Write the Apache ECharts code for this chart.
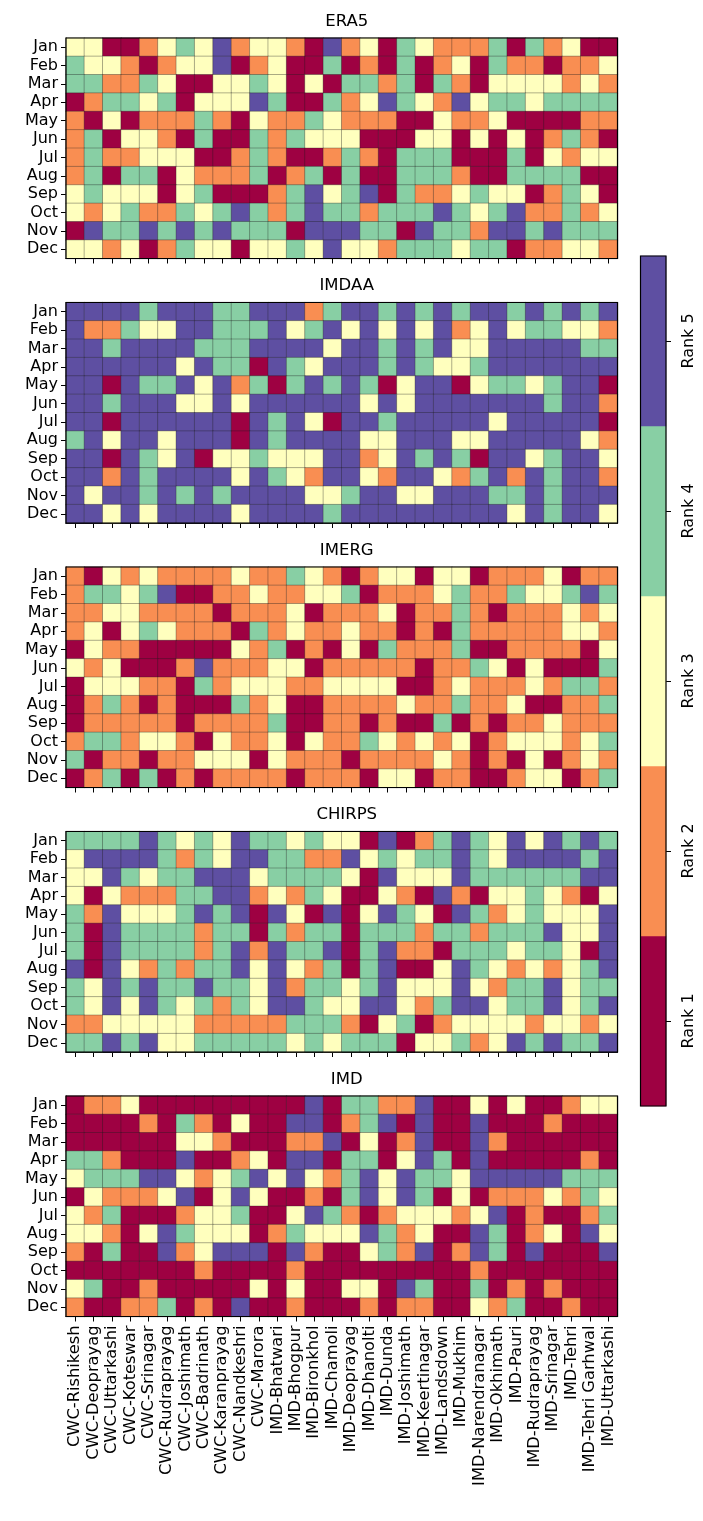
<!DOCTYPE html>
<html>
<head>
<meta charset="utf-8">
<script src="https://cdn.jsdelivr.net/npm/echarts@6/dist/echarts.min.js"></script>
<style>
html,body{margin:0;padding:0;background:#fff;}
#c{width:703px;height:1521px;}
</style>
</head>
<body>
<div id="c"></div>
<script>
const months = ['Jan','Feb','Mar','Apr','May','Jun','Jul','Aug','Sep','Oct','Nov','Dec'];
const stations = ['CWC-Rishikesh','CWC-Deoprayag','CWC-Uttarkashi','CWC-Koteswar','CWC-Srinagar','CWC-Rudraprayag','CWC-Joshimath','CWC-Badrinath','CWC-Karanprayag','CWC-Nandkeshri','CWC-Marora','IMD-Bhatwari','IMD-Bhogpur','IMD-Bironkhol','IMD-Chamoli','IMD-Deoprayag','IMD-Dhanolti','IMD-Dunda','IMD-Joshimath','IMD-Keertinagar','IMD-Landsdown','IMD-Mukhim','IMD-Narendranagar','IMD-Okhimath','IMD-Pauri','IMD-Rudraprayag','IMD-Srinagar','IMD-Tehri','IMD-Tehri Garhwal','IMD-Uttarkashi'];
const rankLabels = ['Rank 1','Rank 2','Rank 3','Rank 4','Rank 5'];
const rankValues = [1,2,3,4,5];
const panelTitles = ['ERA5','IMDAA','IMERG','CHIRPS','IMD'];

const era5 = [
[3,3,1,1,2,3,4,3,5,2,3,3,2,1,5,2,3,1,4,3,2,2,2,4,1,4,2,3,1,1],
[4,3,3,2,1,2,3,3,5,1,2,3,1,1,4,1,2,1,4,1,2,3,1,4,2,2,1,2,2,3],
[4,4,2,2,4,3,1,1,3,3,4,3,1,3,1,4,4,2,4,1,4,2,1,3,3,3,3,2,3,2],
[1,2,4,4,3,4,1,3,3,3,5,4,1,1,4,2,3,5,4,3,2,5,3,4,4,3,4,4,4,4],
[2,1,3,1,2,2,2,4,2,1,3,2,2,4,3,2,2,2,1,1,3,2,2,3,1,1,1,1,2,2],
[2,4,1,3,3,2,1,4,1,1,4,2,4,3,3,3,1,1,1,3,3,1,3,1,3,1,2,4,2,1],
[2,4,2,2,3,3,3,1,1,2,4,2,1,1,2,4,2,1,4,4,4,1,1,1,4,1,3,2,3,3],
[2,4,1,4,4,1,3,2,2,2,4,1,2,4,1,4,1,1,4,4,4,2,1,1,4,4,4,4,1,1],
[3,4,3,3,3,1,3,4,1,1,1,2,4,5,3,4,5,1,4,2,2,3,4,3,3,1,2,4,3,1],
[3,2,3,4,2,2,4,3,4,5,4,2,4,5,4,4,2,4,4,4,5,4,3,4,5,2,2,4,2,3],
[1,5,4,4,5,4,5,4,5,4,4,4,1,5,5,5,4,4,1,5,4,4,2,5,5,4,5,4,4,4],
[3,3,2,3,1,2,4,3,3,1,3,3,4,3,5,3,3,2,4,4,4,3,4,4,1,2,2,3,3,2]
];
const imdaa = [
[5,5,5,5,4,5,5,5,4,4,5,5,5,2,4,5,5,4,5,4,5,4,5,5,4,5,4,5,4,5],
[5,2,2,4,3,3,5,5,4,4,4,5,3,4,5,3,5,3,5,3,5,2,3,5,3,4,4,3,3,2],
[5,5,4,5,5,5,5,4,4,4,5,5,5,5,3,5,5,4,5,4,5,3,3,5,5,5,5,5,4,4],
[5,5,5,5,5,5,3,5,4,4,1,5,4,3,5,5,5,4,5,4,3,3,4,5,5,5,5,5,5,5],
[5,5,1,5,4,4,5,3,5,2,4,1,4,5,4,5,4,1,3,5,5,1,3,4,4,3,4,5,5,1],
[5,5,4,5,5,5,3,3,5,3,5,5,5,5,5,5,3,5,3,5,5,5,5,5,5,5,4,5,5,2],
[5,5,1,5,5,5,5,5,5,1,5,4,5,3,1,5,5,4,5,5,5,5,5,3,5,5,5,5,5,1],
[4,5,3,5,5,3,5,5,5,1,5,4,5,5,5,5,3,3,5,5,5,3,3,5,5,5,5,5,3,2],
[5,5,1,5,4,3,5,1,3,3,4,3,3,3,5,5,2,3,5,4,5,4,1,5,5,3,4,5,5,3],
[5,5,2,5,4,5,5,5,5,3,5,4,3,2,5,5,3,2,5,5,3,2,4,5,2,5,4,5,5,2],
[5,3,5,5,4,5,4,5,4,5,5,5,5,3,3,4,5,5,3,3,5,5,5,4,4,5,4,5,5,5],
[5,5,3,5,3,5,5,5,5,3,5,5,5,5,4,5,5,5,5,5,5,5,5,5,3,5,4,5,5,3]
];
const imerg = [
[2,1,3,2,3,2,2,2,2,3,2,2,4,3,2,1,2,3,3,1,3,3,1,2,2,2,3,1,2,2],
[2,4,4,3,4,5,1,1,2,2,3,2,2,3,3,4,1,2,2,2,3,4,2,2,4,3,3,4,5,4],
[2,2,3,3,2,2,2,2,1,2,2,2,3,1,2,2,2,3,1,2,2,4,2,1,2,2,2,3,2,3],
[2,3,1,3,4,3,2,2,2,1,4,2,3,2,2,3,2,2,1,2,1,4,2,2,2,2,2,3,3,2],
[1,3,2,2,1,1,1,1,1,3,2,4,1,2,1,3,1,4,2,2,2,4,1,1,2,2,2,2,1,3],
[3,2,3,1,1,1,2,5,2,2,2,3,3,1,2,2,2,2,2,1,2,2,4,3,1,3,1,1,1,4],
[1,3,3,3,2,2,1,4,2,3,3,3,2,2,3,3,3,3,1,1,2,3,2,2,2,3,2,4,4,2],
[1,2,4,2,1,2,1,1,1,4,2,3,1,1,2,2,2,2,3,2,2,4,2,2,3,1,1,2,2,4],
[1,2,2,2,2,2,1,2,2,2,2,4,1,1,2,2,1,2,1,1,4,1,2,1,2,2,3,2,2,2],
[2,4,4,2,3,3,2,1,3,2,2,3,1,3,2,2,4,3,2,3,2,3,1,2,3,3,3,2,3,4],
[4,1,2,2,1,2,2,3,3,3,1,3,2,2,2,1,2,2,2,2,3,2,1,2,1,3,1,2,3,2],
[1,2,4,1,4,1,2,1,2,2,2,2,1,2,2,2,1,3,3,1,2,2,1,1,2,3,3,1,2,4]
];
const chirps = [
[4,4,4,4,5,4,3,4,3,5,4,4,3,4,3,3,1,5,1,2,4,5,4,3,5,3,5,4,5,4],
[3,5,5,5,5,4,2,4,3,5,5,4,4,2,2,5,3,4,3,4,4,5,4,3,5,5,5,5,4,5],
[3,3,5,4,3,4,4,5,5,5,3,4,4,4,4,3,1,5,3,3,3,5,4,4,4,4,4,4,5,5],
[3,1,3,2,2,2,4,4,5,5,2,3,2,4,3,1,1,3,2,1,5,2,1,3,3,4,3,2,1,3],
[4,2,5,3,3,3,4,5,4,5,1,5,3,1,5,1,3,5,4,3,1,5,4,2,3,4,3,3,3,5],
[4,1,5,4,4,4,4,2,4,4,1,4,2,4,4,1,4,4,4,2,4,4,2,4,4,4,5,3,3,5],
[4,1,5,4,4,4,4,2,4,5,2,5,4,4,5,1,4,5,2,2,1,4,4,4,3,4,4,3,1,5],
[5,1,5,3,2,4,2,4,4,5,3,5,3,2,4,1,4,5,1,1,3,5,4,3,2,3,2,3,4,5],
[4,3,5,4,5,4,4,5,4,4,3,5,2,4,4,3,4,5,3,3,3,5,3,2,4,4,5,3,4,4],
[4,3,5,3,5,4,3,4,2,4,3,5,5,4,3,3,5,5,3,2,4,5,5,3,4,4,5,3,4,5],
[2,2,3,3,3,3,3,2,2,2,2,2,4,4,4,2,1,3,4,1,2,3,3,3,3,2,3,3,2,3],
[4,4,5,4,5,3,3,4,4,4,4,4,3,4,3,4,4,4,1,3,3,4,2,3,5,4,5,4,4,5]
];
const imd = [
[1,2,2,3,1,1,1,1,1,1,1,1,1,5,1,4,4,2,2,5,1,1,3,1,3,1,1,2,3,3],
[1,1,1,1,2,1,4,2,1,3,1,1,5,5,1,2,4,5,1,5,1,1,5,1,1,1,2,1,1,1],
[1,1,1,1,1,1,3,3,2,1,1,1,2,2,5,1,3,1,2,5,1,1,5,2,1,1,1,1,1,1],
[4,4,2,1,1,1,5,1,1,2,3,1,5,5,1,4,4,1,3,5,4,1,5,1,1,1,1,1,2,1],
[3,4,4,4,5,5,3,2,3,4,5,3,5,3,2,4,5,3,5,4,4,3,5,5,5,5,5,4,4,4],
[1,3,2,2,2,3,5,1,3,5,3,1,1,2,1,4,5,3,5,4,1,3,1,2,2,2,3,2,4,3],
[3,2,4,1,1,1,2,3,3,4,1,1,3,5,4,2,1,2,3,3,3,2,3,5,1,2,1,1,2,4],
[3,3,2,1,3,5,4,3,3,3,1,2,4,3,3,3,5,4,2,3,1,1,5,4,1,2,3,1,5,3],
[2,1,4,1,1,5,2,3,5,5,5,1,5,2,1,1,3,4,2,5,1,2,5,4,1,5,1,1,1,5],
[1,1,1,1,1,1,1,2,1,1,1,1,2,1,1,1,1,1,1,1,1,1,2,1,1,1,1,1,1,1],
[3,4,1,1,2,1,1,1,1,1,3,1,3,1,1,3,3,1,5,4,1,1,4,1,2,1,2,1,1,1],
[2,1,1,2,2,4,1,2,1,5,1,1,2,1,1,1,2,1,2,2,1,1,3,2,4,1,1,2,1,1]
];
const panels = [era5, imdaa, imerg, chirps, imd];
const rankColors = ['#9e0142','#f98e52','#ffffbe','#88cfa4','#5e4fa2'];

const FONT = 'DejaVu Sans';
const plotLeft = 66, plotWidth = 551.5, plotHeight = 220.5;
const panelTops = [38, 302.5, 567, 831.5, 1096];

const grids = [], xAxes = [], yAxes = [], series = [], titles = [];
panels.forEach((mat, p) => {
  grids.push({left: plotLeft, top: panelTops[p], width: plotWidth, height: plotHeight,
    show: true, z: 10, borderColor: '#000', borderWidth: 1.2, backgroundColor: 'transparent', containLabel: false});
  xAxes.push({type: 'category', gridIndex: p, data: stations, position: 'bottom',
    axisLine: {show: true, lineStyle: {color: '#000', width: 1.2}},
    axisTick: {show: true, alignWithLabel: true, length: 5, lineStyle: {color: '#000', width: 1}},
    axisLabel: {show: p === 4, rotate: 90, interval: 0, fontSize: 16.3, color: '#000', fontFamily: FONT, margin: 9},
    splitLine: {show: false}});
  yAxes.push({type: 'category', gridIndex: p, data: months, inverse: true,
    axisLine: {show: true, lineStyle: {color: '#000', width: 1.2}},
    axisTick: {show: true, alignWithLabel: true, length: 5, lineStyle: {color: '#000', width: 1}},
    axisLabel: {show: true, interval: 0, fontSize: 16, color: '#000', fontFamily: FONT, margin: 8},
    splitLine: {show: false}});
  const data = [];
  mat.forEach((row, r) => row.forEach((v, c) => data.push([c, r, v])));
  series.push({type: 'heatmap', xAxisIndex: p, yAxisIndex: p, data: data,
    itemStyle: {borderColor: 'rgba(30,30,30,0.55)', borderWidth: 0.6},
    emphasis: {disabled: true}, progressive: 0});
  titles.push({text: panelTitles[p], left: plotLeft + plotWidth / 2, top: panelTops[p] - 30, textAlign: 'center',
    textStyle: {fontSize: 16.5, fontWeight: 'normal', color: '#000', fontFamily: FONT}});
});

// colorbar
grids.push({left: 640.5, top: 256, width: 25.5, height: 850, show: true, z: 10,
  borderColor: '#000', borderWidth: 1.2, backgroundColor: 'transparent'});
xAxes.push({type: 'category', gridIndex: 5, data: ['cb'], show: false});
yAxes.push({type: 'category', gridIndex: 5, data: rankLabels, position: 'right',
  axisLine: {show: false},
  axisTick: {show: true, alignWithLabel: true, length: 5, lineStyle: {color: '#000', width: 1}},
  axisLabel: {show: true, rotate: 90, fontSize: 16, color: '#000', fontFamily: FONT, margin: 15},
  splitLine: {show: false}});
series.push({type: 'heatmap', xAxisIndex: 5, yAxisIndex: 5,
  data: rankValues.map((v, i) => [0, i, v]),
  itemStyle: {borderWidth: 0}, emphasis: {disabled: true}});

const chart = echarts.init(document.getElementById('c'), null, {renderer: 'canvas'});
chart.setOption({
  animation: false,
  backgroundColor: '#fff',
  title: titles,
  grid: grids,
  xAxis: xAxes,
  yAxis: yAxes,
  visualMap: {type: 'piecewise', show: false, seriesIndex: [0,1,2,3,4,5],
    pieces: rankValues.map((v, i) => ({value: v, color: rankColors[i]}))},
  series: series
});
</script>
</body>
</html>
